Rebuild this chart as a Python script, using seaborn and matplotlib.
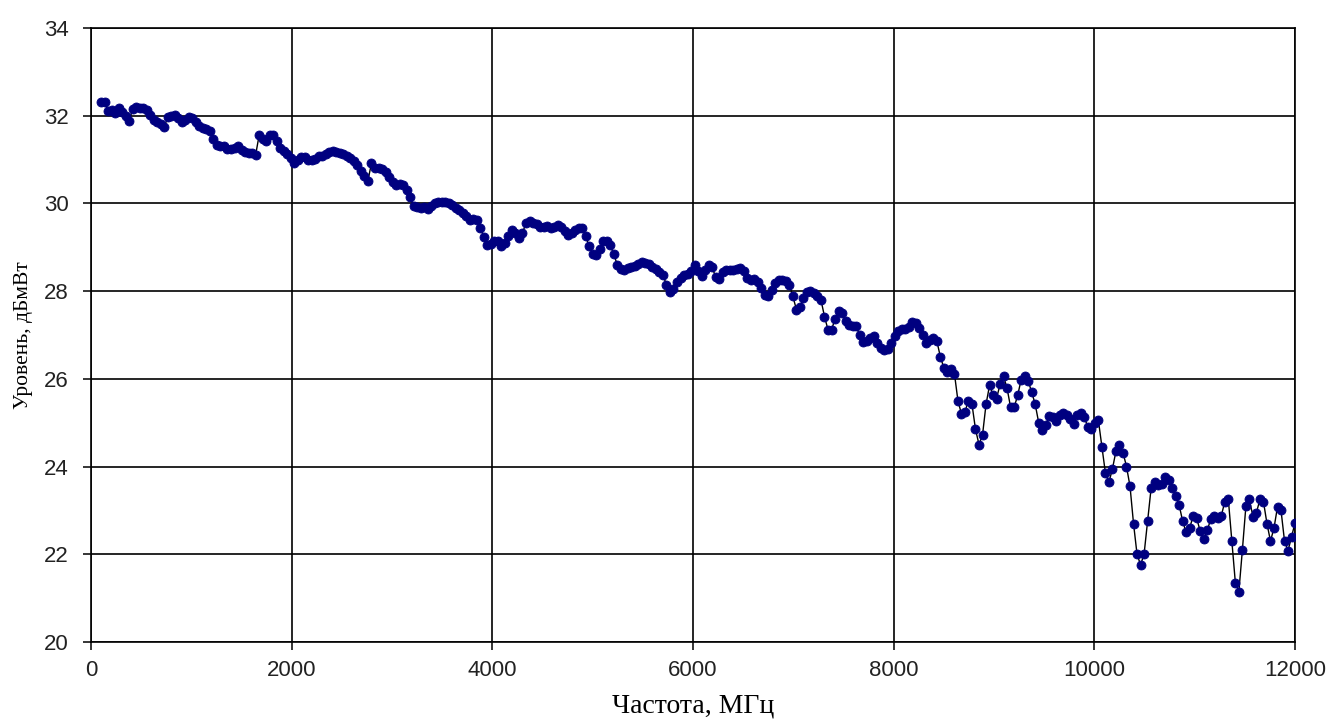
import numpy as np
import pandas as pd
import matplotlib
matplotlib.use("Agg")
import matplotlib.pyplot as plt
import seaborn as sns

# Measured level vs. frequency, sampled every 35 MHz from 100 to 12000 MHz
freq_start, freq_stop, freq_step = 100, 12000, 35

level = [
    32.32, 32.32, 32.10, 32.12, 32.05, 32.18, 32.08, 32.00, 31.88, 32.15,
    32.20, 32.18, 32.18, 32.12, 32.02, 31.90, 31.85, 31.82, 31.75, 31.96,
    32.00, 32.02, 31.95, 31.85, 31.90, 31.96, 31.95, 31.85, 31.76, 31.72,
    31.70, 31.64, 31.46, 31.33, 31.31, 31.30, 31.24, 31.24, 31.27, 31.32,
    31.22, 31.18, 31.16, 31.16, 31.10, 31.55, 31.47, 31.43, 31.56, 31.56,
    31.42, 31.26, 31.20, 31.12, 31.03, 30.93, 31.00, 31.05, 31.06, 31.00,
    30.98, 31.02, 31.07, 31.08, 31.12, 31.17, 31.20, 31.17, 31.15, 31.12,
    31.08, 31.04, 30.96, 30.87, 30.74, 30.62, 30.52, 30.92, 30.80, 30.80,
    30.79, 30.72, 30.60, 30.49, 30.42, 30.44, 30.42, 30.30, 30.15, 29.94,
    29.92, 29.90, 29.91, 29.87, 29.95, 30.00, 30.04, 30.03, 30.04, 30.02,
    29.97, 29.90, 29.84, 29.78, 29.72, 29.62, 29.64, 29.63, 29.45, 29.23,
    29.05, 29.08, 29.14, 29.14, 29.02, 29.10, 29.25, 29.40, 29.33, 29.22,
    29.33, 29.55, 29.61, 29.56, 29.52, 29.47, 29.47, 29.49, 29.44, 29.46,
    29.50, 29.47, 29.36, 29.28, 29.32, 29.40, 29.45, 29.45, 29.25, 29.02,
    28.85, 28.82, 28.95, 29.15, 29.15, 29.05, 28.84, 28.60, 28.50, 28.48,
    28.52, 28.56, 28.58, 28.62, 28.66, 28.65, 28.62, 28.56, 28.50, 28.43,
    28.36, 28.15, 27.98, 28.05, 28.20, 28.30, 28.36, 28.40, 28.45, 28.60,
    28.45, 28.35, 28.48, 28.60, 28.55, 28.32, 28.27, 28.44, 28.48, 28.48,
    28.48, 28.50, 28.52, 28.45, 28.30, 28.26, 28.28, 28.20, 28.08, 27.92,
    27.90, 28.03, 28.18, 28.25, 28.25, 28.23, 28.15, 27.88, 27.58, 27.63,
    27.84, 27.97, 28.00, 27.96, 27.90, 27.80, 27.42, 27.12, 27.12, 27.36,
    27.55, 27.50, 27.32, 27.22, 27.20, 27.20, 27.00, 26.84, 26.86, 26.92,
    26.97, 26.82, 26.70, 26.66, 26.68, 26.82, 26.98, 27.10, 27.13, 27.13,
    27.18, 27.30, 27.28, 27.15, 27.00, 26.82, 26.88, 26.92, 26.86, 26.50,
    26.25, 26.15, 26.22, 26.12, 25.50, 25.20, 25.25, 25.50, 25.42, 24.85,
    24.50, 24.72, 25.42, 25.85, 25.64, 25.55, 25.88, 26.06, 25.78, 25.35,
    25.35, 25.62, 25.98, 26.06, 25.95, 25.70, 25.42, 25.00, 24.84, 24.95,
    25.15, 25.14, 25.03, 25.18, 25.21, 25.18, 25.08, 24.98, 25.18, 25.22,
    25.12, 24.90, 24.85, 25.00, 25.05, 24.45, 23.85, 23.64, 23.95, 24.35,
    24.48, 24.32, 24.00, 23.55, 22.70, 22.00, 21.76, 22.00, 22.75, 23.50,
    23.64, 23.58, 23.60, 23.77, 23.70, 23.52, 23.32, 23.12, 22.75, 22.50,
    22.60, 22.88, 22.82, 22.52, 22.34, 22.55, 22.80, 22.88, 22.82, 22.88,
    23.20, 23.25, 22.30, 21.35, 21.15, 22.10, 23.10, 23.25, 22.86, 22.95,
    23.25, 23.20, 22.70, 22.30, 22.60, 23.08, 23.00, 22.30, 22.08, 22.40,
    22.72,
]

freq = np.arange(freq_start, freq_stop + 1, freq_step)
df = pd.DataFrame({"freq": freq, "level": level})

x_ticks = [0, 2000, 4000, 6000, 8000, 10000, 12000]
y_ticks = [20, 22, 24, 26, 28, 30, 32, 34]

sns.set_theme(style="white")
plt.rcParams["font.family"] = ["Liberation Sans", "DejaVu Sans"]

fig = plt.figure(figsize=(13.31, 7.21), dpi=100)
ax = fig.add_axes([0.0684, 0.1096, 0.9046, 0.8516])

sns.lineplot(data=df, x="freq", y="level", ax=ax, color="black",
             linewidth=1.0, zorder=2)
sns.scatterplot(data=df, x="freq", y="level", ax=ax, color="#000080",
                s=42, edgecolor="#000080", linewidth=0.6, zorder=3)

ax.set_xlim(0, 12000)
ax.set_ylim(20, 34)
ax.set_xticks(x_ticks)
ax.set_yticks(y_ticks)
ax.set_xticklabels([str(t) for t in x_ticks])
ax.set_yticklabels([str(t) for t in y_ticks])

ax.grid(True, color="black", linewidth=1.2)
ax.set_axisbelow(True)
for side in ["left", "bottom", "top", "right"]:
    ax.spines[side].set_visible(True)
    ax.spines[side].set_color("black")
    ax.spines[side].set_linewidth(1.2)

ax.tick_params(axis="y", which="major", direction="out", length=6,
               width=1.1, color="black", labelsize=16, labelcolor="#222222",
               left=True, pad=10)
ax.tick_params(axis="x", which="major", direction="out", length=6,
               width=1.1, color="black", labelsize=16, labelcolor="#222222",
               bottom=True, pad=7)

ax.set_xlabel("Частота, МГц", family=["Liberation Serif", "DejaVu Serif"],
              fontsize=20, color="black", labelpad=9)
ax.set_ylabel("Уровень, дБмВт", family=["Liberation Serif", "DejaVu Serif"],
              fontsize=15.5, color="black", labelpad=8)

fig.savefig("out.png", dpi=100)
